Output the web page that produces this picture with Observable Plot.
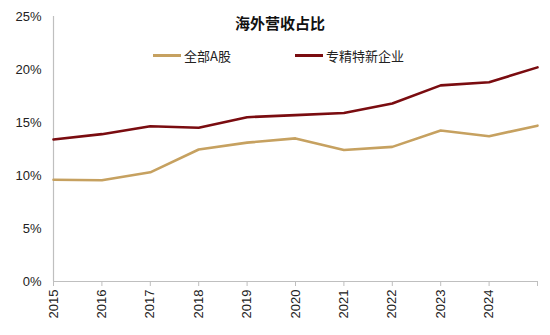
<!DOCTYPE html>
<html><head><meta charset="utf-8">
<script src="https://cdn.jsdelivr.net/npm/d3@7"></script>
<script src="https://cdn.jsdelivr.net/npm/@observablehq/plot@0.6"></script>
<style>
body{margin:0;background:#fff;font-family:"Liberation Sans",Arial,"Noto Sans CJK SC",sans-serif;}
#wrap{position:relative;width:550px;height:335px;}
#title{position:absolute;left:0;width:560px;top:12px;text-align:center;font-weight:bold;font-size:15px;color:#111;font-family:"Noto Sans CJK SC",sans-serif;}
.leg{position:absolute;top:46px;display:flex;align-items:center;font-size:13px;color:#222;font-family:"Noto Sans CJK SC",sans-serif;}
.sw{display:inline-block;width:28px;height:3px;margin-right:3px;}
</style></head>
<body><div id="wrap"></div>
<script>
const years = ["2015","2016","2017","2018","2019","2020","2021","2022","2023","2024",""];
const allA = [9.6, 9.55, 10.3, 12.45, 13.1, 13.5, 12.4, 12.7, 14.25, 13.7, 14.7];
const srne = [13.4, 13.9, 14.65, 14.5, 15.5, 15.7, 15.9, 16.8, 18.5, 18.8, 20.2];
const seriesNames = ["全部A股", "专精特新企业"];
const colors = ["#C6A160", "#7A0C10"];
const yTicks = [0, 5, 10, 15, 20, 25];

const rows = [];
years.forEach((y, i) => {
  rows.push({i, v: allA[i], s: seriesNames[0]});
  rows.push({i, v: srne[i], s: seriesNames[1]});
});

const chart = Plot.plot({
  width: 550, height: 335,
  marginLeft: 53, marginRight: 13, marginTop: 16, marginBottom: 54,
  style: {fontFamily: "Liberation Sans, Arial, sans-serif", fontSize: "13px", color: "#222"},
  x: {type: "linear", domain: [0, years.length - 1], axis: null},
  y: {domain: [0, 25], axis: null},
  color: {domain: seriesNames, range: colors},
  marks: [
    Plot.axisY({ticks: yTicks, tickSize: 0, tickPadding: 12, tickFormat: d => d + "%", fontSize: 13, label: null}),
    Plot.ruleX([0], {stroke: "#bfbfbf", strokeWidth: 1.2}),
    Plot.ruleY([0], {stroke: "#bfbfbf", strokeWidth: 1.2}),
    Plot.axisX({ticks: d3.range(years.length), tickSize: 5, tickPadding: 3, stroke: "#bfbfbf",
      tickFormat: i => years[i], tickRotate: -90, fontSize: 13, label: null}),
    Plot.line(rows, {x: "i", y: "v", stroke: "s", strokeWidth: 2.6, strokeLinejoin: "round"})
  ]
});
const wrap = document.getElementById("wrap");
wrap.appendChild(chart);

const t = document.createElement("div");
t.id = "title"; t.textContent = "海外营收占比";
wrap.appendChild(t);
const legX = [153, 295];
seriesNames.forEach((n, k) => {
  const d = document.createElement("div");
  d.className = "leg"; d.style.left = legX[k] + "px";
  d.innerHTML = `<span class="sw" style="background:${colors[k]}"></span>${n}`;
  wrap.appendChild(d);
});
</script></body></html>
